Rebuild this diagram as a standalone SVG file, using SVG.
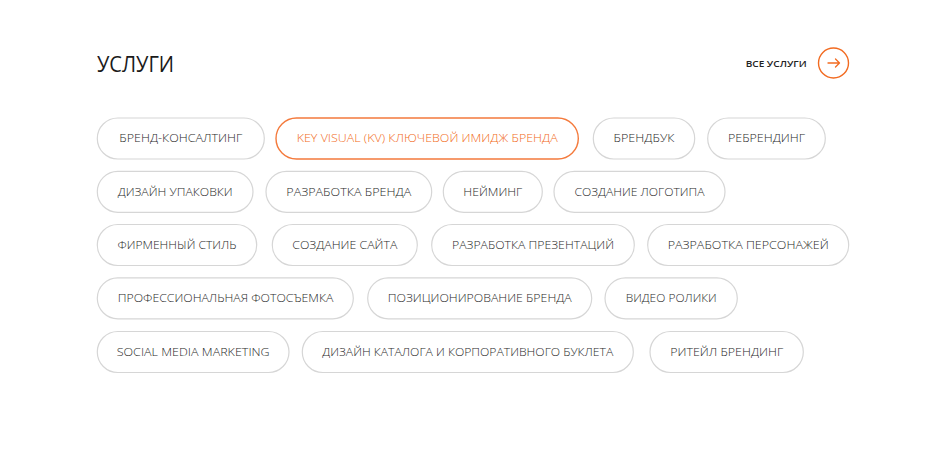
<svg xmlns="http://www.w3.org/2000/svg" width="947" height="452" viewBox="0 0 947 452">
<style>
.bg{fill:#ffffff}
.pill rect{fill:#ffffff;stroke:#d6d6d6;stroke-width:1.2}
.pill text{font-family:"Open Sans","Noto Sans","Liberation Sans",sans-serif;font-size:11.5px;font-weight:300;fill:#2a2a2a;text-anchor:middle}
.pill.active rect{stroke:#f47a3c;stroke-width:1.4}
.pill.active text{fill:#f26b21}
.title{font-family:"Open Sans","Liberation Sans",sans-serif;font-size:21px;fill:#1a1a1a}
.more{font-family:"Open Sans","Liberation Sans",sans-serif;font-size:9.5px;font-weight:600;fill:#222}
</style>
<rect class="bg" x="0" y="0" width="947" height="452"/>
<g id="header">
<text class="title" x="97" y="71.7" textLength="77" lengthAdjust="spacingAndGlyphs">УСЛУГИ</text>
<text class="more" x="745.7" y="67.3" textLength="61" lengthAdjust="spacingAndGlyphs">ВСЕ УСЛУГИ</text>
<circle cx="833.5" cy="63" r="15" fill="none" stroke="#f26b21" stroke-width="1.4"/>
<path d="M828 63 H839.5 M835.5 59 L839.5 63 L835.5 67" fill="none" stroke="#f26b21" stroke-width="1.3" stroke-linecap="round" stroke-linejoin="round"/>
</g>
<g id="r1a" class="pill"><rect x="97.3" y="118" width="167" height="41" rx="20.5"/><text x="180.8" y="142.3" textLength="123" lengthAdjust="spacingAndGlyphs">БРЕНД-КОНСАЛТИНГ</text></g>
<g id="r1b" class="pill active"><rect x="276" y="118" width="302.3" height="41" rx="20.5"/><text x="427.2" y="142.3" textLength="261" lengthAdjust="spacingAndGlyphs">KEY VISUAL (KV) КЛЮЧЕВОЙ ИМИДЖ БРЕНДА</text></g>
<g id="r1c" class="pill"><rect x="593.3" y="118" width="101.4" height="41" rx="20.5"/><text x="644" y="142.3" textLength="61" lengthAdjust="spacingAndGlyphs">БРЕНДБУК</text></g>
<g id="r1d" class="pill"><rect x="707.7" y="118" width="117.6" height="41" rx="20.5"/><text x="766.5" y="142.3" textLength="77" lengthAdjust="spacingAndGlyphs">РЕБРЕНДИНГ</text></g>

<g id="r2a" class="pill"><rect x="97.3" y="171.3" width="155.7" height="41" rx="20.5"/><text x="175.2" y="195.6" textLength="115" lengthAdjust="spacingAndGlyphs">ДИЗАЙН УПАКОВКИ</text></g>
<g id="r2b" class="pill"><rect x="266" y="171.3" width="165.7" height="41" rx="20.5"/><text x="348.8" y="195.6" textLength="125" lengthAdjust="spacingAndGlyphs">РАЗРАБОТКА БРЕНДА</text></g>
<g id="r2c" class="pill"><rect x="443.3" y="171.3" width="99" height="41" rx="20.5"/><text x="492.8" y="195.6" textLength="59" lengthAdjust="spacingAndGlyphs">НЕЙМИНГ</text></g>
<g id="r2d" class="pill"><rect x="554" y="171.3" width="171" height="41" rx="20.5"/><text x="639.5" y="195.6" textLength="130" lengthAdjust="spacingAndGlyphs">СОЗДАНИЕ ЛОГОТИПА</text></g>

<g id="r3a" class="pill"><rect x="97.3" y="224.5" width="159.4" height="41" rx="20.5"/><text x="177" y="248.8" textLength="119" lengthAdjust="spacingAndGlyphs">ФИРМЕННЫЙ СТИЛЬ</text></g>
<g id="r3b" class="pill"><rect x="272.3" y="224.5" width="145" height="41" rx="20.5"/><text x="344.8" y="248.8" textLength="105" lengthAdjust="spacingAndGlyphs">СОЗДАНИЕ САЙТА</text></g>
<g id="r3c" class="pill"><rect x="431.7" y="224.5" width="202.6" height="41" rx="20.5"/><text x="533" y="248.8" textLength="162" lengthAdjust="spacingAndGlyphs">РАЗРАБОТКА ПРЕЗЕНТАЦИЙ</text></g>
<g id="r3d" class="pill"><rect x="647.7" y="224.5" width="201" height="41" rx="20.5"/><text x="748.2" y="248.8" textLength="161" lengthAdjust="spacingAndGlyphs">РАЗРАБОТКА ПЕРСОНАЖЕЙ</text></g>

<g id="r4a" class="pill"><rect x="97.3" y="277.8" width="256" height="41" rx="20.5"/><text x="225.5" y="302.1" textLength="215.6" lengthAdjust="spacingAndGlyphs">ПРОФЕССИОНАЛЬНАЯ ФОТОСЪЕМКА</text></g>
<g id="r4b" class="pill"><rect x="367.7" y="277.8" width="224" height="41" rx="20.5"/><text x="479.7" y="302.1" textLength="184" lengthAdjust="spacingAndGlyphs">ПОЗИЦИОНИРОВАНИЕ БРЕНДА</text></g>
<g id="r4c" class="pill"><rect x="605" y="277.8" width="132.3" height="41" rx="20.5"/><text x="671.2" y="302.1" textLength="91" lengthAdjust="spacingAndGlyphs">ВИДЕО РОЛИКИ</text></g>

<g id="r5a" class="pill"><rect x="97.3" y="331.5" width="191.7" height="41" rx="20.5"/><text x="193.2" y="355.8" textLength="153" lengthAdjust="spacingAndGlyphs">SOCIAL MEDIA MARKETING</text></g>
<g id="r5b" class="pill"><rect x="302.3" y="331.5" width="331" height="41" rx="20.5"/><text x="467.8" y="355.8" textLength="291" lengthAdjust="spacingAndGlyphs">ДИЗАЙН КАТАЛОГА И КОРПОРАТИВНОГО БУКЛЕТА</text></g>
<g id="r5c" class="pill"><rect x="650" y="331.5" width="153.3" height="41" rx="20.5"/><text x="726.7" y="355.8" textLength="113" lengthAdjust="spacingAndGlyphs">РИТЕЙЛ БРЕНДИНГ</text></g>
<g id="connectors"/>
</svg>
